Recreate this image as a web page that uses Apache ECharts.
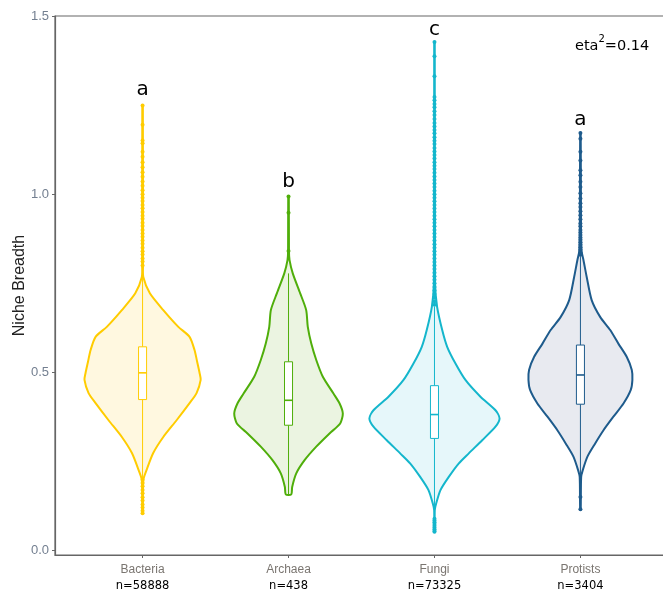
<!DOCTYPE html>
<html>
<head>
<meta charset="utf-8">
<title>Niche Breadth</title>
<script src="https://cdn.jsdelivr.net/npm/echarts@6/dist/echarts.min.js"></script>
<style>
  html, body { margin: 0; padding: 0; background: #ffffff; }
  #chart { width: 663px; height: 592px; }
</style>
</head>
<body>
<div id="chart"></div>
<script>
// Groups and sample sizes
const categories = ['Bacteria', 'Archaea', 'Fungi', 'Protists'];
const sampleSizes = [58888, 438, 73325, 3404];
const yTicks = [0, 0.5, 1.0, 1.5];

// Significance letters and the height they sit at
const letters = ['a', 'b', 'c', 'a'];
const letterY = [1.293, 1.035, 1.461, 1.208];

// Effect size annotation
const etaSquared = 0.14;

// Violin outlines: [niche breadth, half width in group units]
const violinBacteria = [
  [0.105, 0.002], [0.198, 0.005], [0.226, 0.027], [0.274, 0.073], [0.319, 0.142],
  [0.366, 0.233], [0.414, 0.322], [0.442, 0.370], [0.479, 0.398], [0.498, 0.391],
  [0.530, 0.374], [0.563, 0.356], [0.600, 0.322], [0.628, 0.245], [0.675, 0.142],
  [0.722, 0.050], [0.768, 0.005], [0.800, 0.003], [1.249, 0.002]
];
const violinArchaea = [
  [0.158, 0.019], [0.179, 0.025], [0.217, 0.053], [0.254, 0.110], [0.292, 0.190],
  [0.329, 0.281], [0.357, 0.354], [0.385, 0.372], [0.413, 0.350], [0.441, 0.308],
  [0.488, 0.235], [0.535, 0.190], [0.581, 0.156], [0.628, 0.132], [0.675, 0.121],
  [0.722, 0.080], [0.778, 0.029], [0.815, 0.007], [0.840, 0.003], [0.994, 0.002]
];
const violinFungi = [
  [0.053, 0.002], [0.114, 0.002], [0.133, 0.012], [0.170, 0.041], [0.207, 0.098],
  [0.245, 0.167], [0.273, 0.235], [0.310, 0.327], [0.348, 0.418], [0.371, 0.446],
  [0.394, 0.418], [0.432, 0.315], [0.479, 0.212], [0.525, 0.144], [0.572, 0.087],
  [0.619, 0.053], [0.684, 0.018], [0.750, 0.004], [1.427, 0.002]
];
const violinProtists = [
  [0.116, 0.002], [0.207, 0.005], [0.226, 0.016], [0.264, 0.048], [0.301, 0.101],
  [0.338, 0.158], [0.376, 0.226], [0.413, 0.295], [0.451, 0.345], [0.479, 0.356],
  [0.507, 0.352], [0.544, 0.317], [0.581, 0.260], [0.619, 0.204], [0.656, 0.135],
  [0.703, 0.077], [0.768, 0.043], [0.815, 0.021], [0.840, 0.008], [0.900, 0.004],
  [1.172, 0.002]
];

// Box statistics: [lower whisker, Q1, median, Q3, upper whisker]
const boxBacteria = [0.202, 0.424, 0.499, 0.572, 0.794];
const boxArchaea  = [0.158, 0.352, 0.422, 0.530, 0.778];
const boxFungi    = [0.095, 0.315, 0.382, 0.463, 0.685];
const boxProtists = [0.175, 0.411, 0.493, 0.577, 0.826];

// Outlying observations beyond the whiskers
const outliersBacteria = [
  1.249, 1.195, 1.151, 1.143, 1.119, 1.105, 1.090, 1.076, 1.062, 1.049, 1.036, 1.024,
  1.011, 1.000, 0.990, 0.981, 0.970, 0.961, 0.950, 0.940, 0.931, 0.920, 0.911, 0.900,
  0.890, 0.881, 0.870, 0.861, 0.850, 0.840, 0.831, 0.820, 0.811, 0.800,
  0.199, 0.190, 0.181, 0.170, 0.161, 0.150, 0.141, 0.130, 0.121, 0.112, 0.105
];
const outliersArchaea = [0.994, 0.948, 0.841];
const outliersFungi = [
  1.427, 1.387, 1.331, 1.273, 1.264, 1.253, 1.244, 1.233, 1.222, 1.211, 1.200, 1.190,
  1.180, 1.171, 1.160, 1.150, 1.141, 1.130, 1.120, 1.110, 1.100, 1.090, 1.080, 1.071,
  1.060, 1.050, 1.040, 1.030, 1.020, 1.010, 1.000, 0.990, 0.980, 0.970, 0.960, 0.950,
  0.940, 0.930, 0.920, 0.910, 0.900, 0.890, 0.880, 0.870, 0.860, 0.850, 0.840, 0.830,
  0.820, 0.810, 0.800, 0.790, 0.780, 0.770, 0.760, 0.750, 0.740, 0.730, 0.720, 0.710,
  0.700, 0.690,
  0.090, 0.085, 0.080, 0.075, 0.070, 0.065, 0.060, 0.055, 0.053
];
const outliersProtists = [
  1.172, 1.156, 1.119, 1.095, 1.067, 1.053, 1.035, 1.020, 1.003, 0.988, 0.975, 0.964,
  0.952, 0.941, 0.930, 0.918, 0.910, 0.900, 0.893, 0.886, 0.879, 0.872, 0.865, 0.858,
  0.851, 0.844, 0.837, 0.830,
  0.151, 0.116
];

const violins = [violinBacteria, violinArchaea, violinFungi, violinProtists];
const boxes = [boxBacteria, boxArchaea, boxFungi, boxProtists];
const outliers = [outliersBacteria, outliersArchaea, outliersFungi, outliersProtists];

// Palette
const lineColors = ['#FFCC00', '#4FAE0A', '#14B6CC', '#1E5B8C'];
const fillColors = ['#FFF8E0', '#EBF4E1', '#E6F7FA', '#E8EAF0'];
const axisColor = '#666666';

const BOX_HALF = 0.0275;
const groupIndex = categories.map((c, i) => [i]);

const series = [];

// Violin bodies
series.push({
  type: 'custom',
  coordinateSystem: 'cartesian2d',
  data: groupIndex,
  z: 2,
  renderItem: (params, api) => {
    const i = api.value(0);
    const prof = violins[i];
    const right = prof.map(([v, w]) => api.coord([i + w, v]));
    const left = prof.slice().reverse().map(([v, w]) => api.coord([i - w, v]));
    return {
      type: 'polygon',
      shape: { points: right.concat(left), smooth: 0.25 },
      style: { fill: fillColors[i], stroke: lineColors[i], lineWidth: 2 }
    };
  }
});

// Box and whiskers
series.push({
  type: 'custom',
  coordinateSystem: 'cartesian2d',
  data: groupIndex,
  z: 3,
  renderItem: (params, api) => {
    const i = api.value(0);
    const [lo, q1, med, q3, hi] = boxes[i];
    const c = lineColors[i];
    const pLo = api.coord([i, lo]);
    const pHi = api.coord([i, hi]);
    const tl = api.coord([i - BOX_HALF, q3]);
    const br = api.coord([i + BOX_HALF, q1]);
    const m1 = api.coord([i - BOX_HALF, med]);
    const m2 = api.coord([i + BOX_HALF, med]);
    return {
      type: 'group',
      children: [
        { type: 'line', shape: { x1: pLo[0], y1: pLo[1], x2: pLo[0], y2: br[1] },
          style: { stroke: c, lineWidth: 1 } },
        { type: 'line', shape: { x1: pHi[0], y1: pHi[1], x2: pHi[0], y2: tl[1] },
          style: { stroke: c, lineWidth: 1 } },
        { type: 'rect', shape: { x: tl[0], y: tl[1], width: br[0] - tl[0], height: br[1] - tl[1] },
          style: { fill: '#ffffff', stroke: c, lineWidth: 1 } },
        { type: 'line', shape: { x1: m1[0], y1: m1[1], x2: m2[0], y2: m2[1] },
          style: { stroke: c, lineWidth: 1.6 } }
      ]
    };
  }
});

// Outlier points
outliers.forEach((vals, i) => {
  series.push({
    type: 'scatter',
    data: vals.map(v => [i, v]),
    symbol: 'circle',
    symbolSize: 4,
    z: 4,
    itemStyle: { color: lineColors[i], opacity: 1 },
    emphasis: { disabled: true }
  });
});

// Group letters
series.push({
  type: 'custom',
  coordinateSystem: 'cartesian2d',
  data: groupIndex,
  z: 5,
  renderItem: (params, api) => {
    const i = api.value(0);
    const p = api.coord([i, letterY[i]]);
    return {
      type: 'text',
      x: p[0], y: p[1],
      style: {
        text: letters[i], fill: '#000000',
        font: '20px "DejaVu Sans"',
        align: 'center', verticalAlign: 'middle'
      }
    };
  }
});

const chart = echarts.init(document.getElementById('chart'), null, { renderer: 'canvas' });
chart.setOption({
  animation: false,
  backgroundColor: '#ffffff',
  grid: {
    left: 55, right: -5, top: 16, bottom: 37,
    containLabel: false,
    outerBoundsMode: 'none',
    show: true, borderColor: axisColor, borderWidth: 1.2, backgroundColor: 'transparent'
  },
  xAxis: {
    type: 'value',
    min: -0.6, max: 3.6,
    splitLine: { show: false },
    axisLine: { show: true, onZero: false, lineStyle: { color: axisColor, width: 1.2 } },
    axisTick: { show: true, length: 3, customValues: [0, 1, 2, 3], lineStyle: { color: axisColor } },
    axisLabel: {
      customValues: [0, 1, 2, 3],
      margin: 7,
      formatter: v => '{c|' + categories[v] + '}\n{n|n=' + sampleSizes[v] + '}',
      rich: {
        c: { fontFamily: '"Liberation Sans", Arial', fontSize: 12, color: '#7a7570', lineHeight: 16 },
        n: { fontFamily: '"DejaVu Sans"', fontSize: 11.5, color: '#000000', lineHeight: 17 }
      }
    }
  },
  yAxis: {
    type: 'value',
    min: -0.012, max: 1.5,
    name: 'Niche Breadth',
    nameLocation: 'middle',
    nameGap: 27,
    nameRotate: 90,
    nameMoveOverlap: false,
    nameTextStyle: { fontFamily: '"Liberation Sans", Arial', fontSize: 16, color: '#222222' },
    splitLine: { show: false },
    axisLine: { show: true, onZero: false, lineStyle: { color: axisColor, width: 1.2 } },
    axisTick: { show: true, length: 3, customValues: yTicks, lineStyle: { color: axisColor } },
    axisLabel: {
      customValues: yTicks,
      margin: 6,
      formatter: v => Number(v).toFixed(1),
      fontFamily: '"Liberation Sans", Arial', fontSize: 13, color: '#737f90'
    }
  },
  graphic: [{
    type: 'text',
    left: 575, top: 34,
    style: {
      text: '{e|eta}{s|2}{e|=' + etaSquared.toFixed(2) + '}',
      rich: {
        e: { fontFamily: '"DejaVu Sans"', fontSize: 14.5, fill: '#000000', lineHeight: 20, verticalAlign: 'bottom' },
        s: { fontFamily: '"DejaVu Sans"', fontSize: 10, fill: '#000000', lineHeight: 20, verticalAlign: 'top' }
      }
    }
  }],
  series: series
});
</script>
</body>
</html>
